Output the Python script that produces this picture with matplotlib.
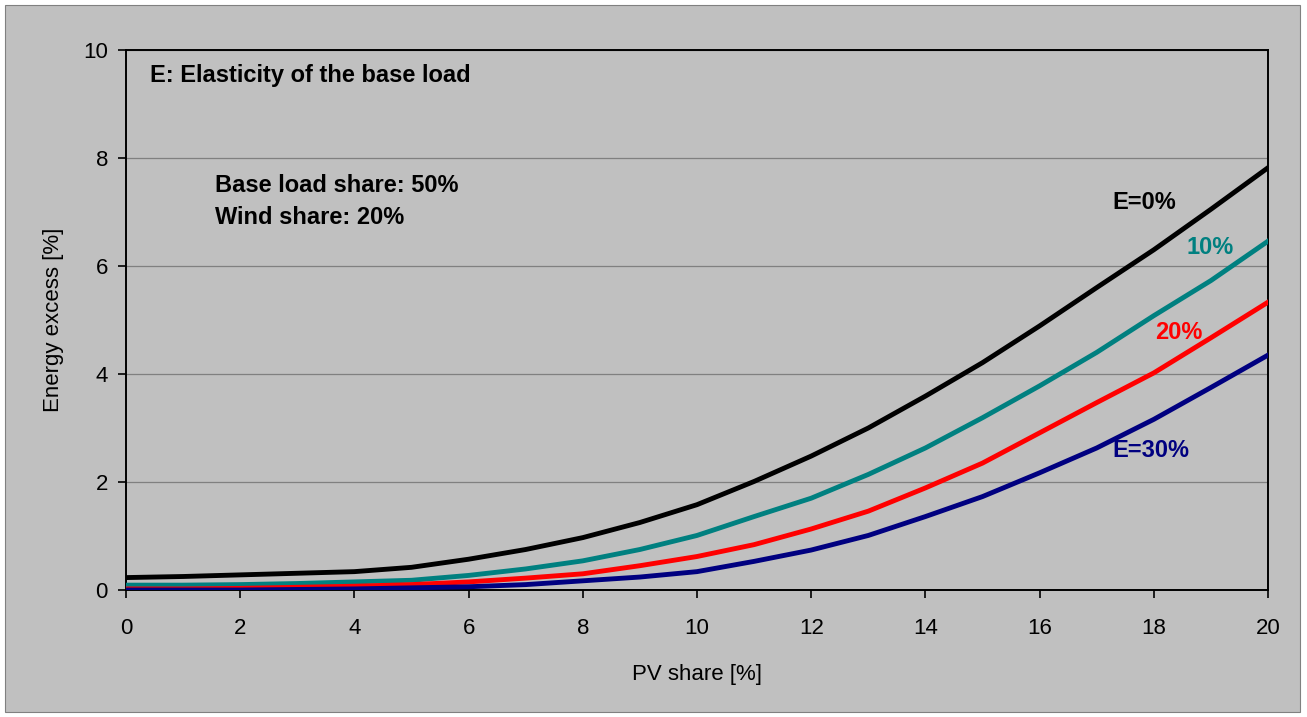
import matplotlib
matplotlib.use("Agg")
import matplotlib.pyplot as plt
from matplotlib.patches import Rectangle

plt.rcParams['font.family'] = ['Liberation Sans', 'DejaVu Sans']

pv_share = list(range(0, 21))
e0 = [0.23, 0.25, 0.28, 0.31, 0.34, 0.42, 0.57, 0.75, 0.97, 1.25, 1.58, 2.01, 2.48, 3.0, 3.59, 4.21, 4.89, 5.6, 6.3, 7.05, 7.82]
e10 = [0.09, 0.09, 0.10, 0.12, 0.15, 0.18, 0.27, 0.39, 0.54, 0.75, 1.01, 1.36, 1.70, 2.14, 2.63, 3.19, 3.78, 4.40, 5.08, 5.73, 6.46]
e20 = [0.02, 0.02, 0.03, 0.05, 0.07, 0.10, 0.15, 0.22, 0.30, 0.45, 0.62, 0.84, 1.13, 1.46, 1.89, 2.35, 2.91, 3.47, 4.02, 4.67, 5.33]
e30 = [0.0, 0.0, 0.0, 0.01, 0.02, 0.04, 0.06, 0.10, 0.17, 0.24, 0.34, 0.53, 0.74, 1.01, 1.36, 1.73, 2.17, 2.63, 3.16, 3.75, 4.35]

series = [e0, e10, e20, e30]
colors = ['#000000', '#008080', '#FF0000', '#000080']
labels = ['E=0%', '10%', '20%', 'E=30%']
label_pos = [(17.27, 7.17), (18.58, 6.35), (18.02, 4.76), (17.27, 2.59)]

fig = plt.figure(figsize=(13.07, 7.17), dpi=100)
fig.patch.set_facecolor('white')
fig.add_artist(Rectangle((5/1307, 5/717), 1295/1307, 707/717, transform=fig.transFigure,
                         facecolor='#C0C0C0', edgecolor='#808080', lw=0.8, zorder=-10))

ax = fig.add_axes([126/1307, 1 - 590/717, (1268-126)/1307, (590-50)/717])
ax.set_facecolor('#C0C0C0')

for y, c in zip(series, colors):
    ax.plot(pv_share, y, color=c, lw=3.5, solid_joinstyle='round', zorder=3)

for (x, y), t, c in zip(label_pos, labels, colors):
    ax.text(x, y, t, color=c, fontsize=17, fontweight='bold', ha='left', va='center')

ax.set_xlim(0, 20)
ax.set_ylim(0, 10)
ax.set_xticks(range(0, 21, 2))
ax.set_yticks(range(0, 11, 2))
ax.tick_params(axis='both', labelsize=16, direction='out', length=6, width=1.2, colors='black')
ax.tick_params(axis='x', pad=14)
ax.tick_params(axis='y', pad=7)
ax.yaxis.grid(True, color='#808080', lw=0.9)
ax.set_axisbelow(True)
for s in ax.spines.values():
    s.set_color('black')
    s.set_linewidth(1.4)

ax.set_xlabel('PV share [%]', fontsize=16, labelpad=18)
ax.set_ylabel('Energy excess [%]', fontsize=16, labelpad=14)

ax.text(0.42, 9.52, 'E: Elasticity of the base load', fontsize=17, fontweight='bold', va='center')
ax.text(1.56, 7.5, 'Base load share: 50%', fontsize=17, fontweight='bold', va='center')
ax.text(1.56, 6.89, 'Wind share: 20%', fontsize=17, fontweight='bold', va='center')

fig.savefig('out.png', dpi=100, facecolor=fig.get_facecolor())
